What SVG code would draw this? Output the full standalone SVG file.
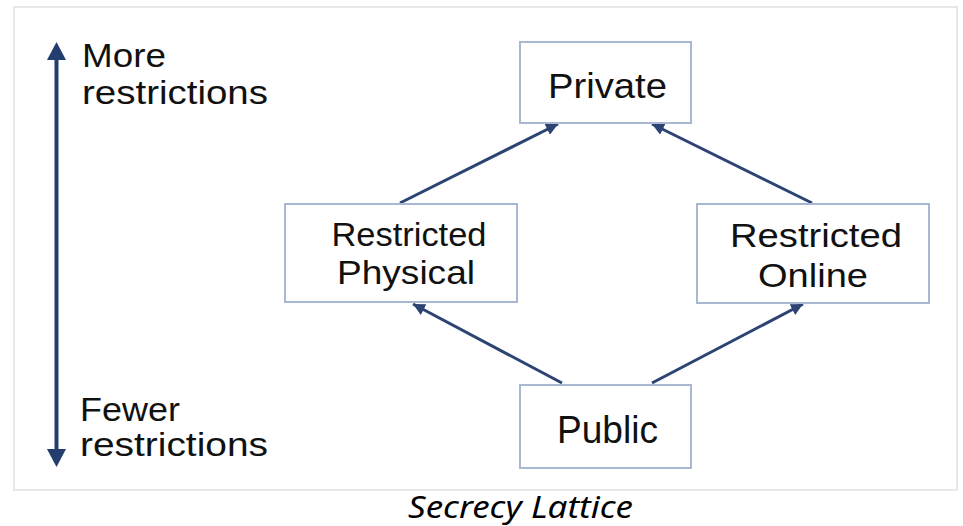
<svg xmlns="http://www.w3.org/2000/svg" width="963" height="526" viewBox="0 0 963 526">
  <defs>
    <marker id="head" viewBox="0 0 10 10" refX="10" refY="5" markerWidth="4" markerHeight="4" orient="auto" markerUnits="strokeWidth">
      <path d="M0,0 L10,5 L0,10 z" fill="#2c4374"/>
    </marker>
    <style>
      .frame { fill: #ffffff; stroke: #e8e8e8; stroke-width: 2; }
      .box { fill: #ffffff; stroke: #a8b7d2; stroke-width: 2; }
      .label { font-family: "Liberation Sans", Arial, sans-serif; font-size: 34px; fill: #111111; }
      .side { font-family: "Liberation Sans", Arial, sans-serif; font-size: 33px; fill: #111111; }
      .edge { stroke: #2c4374; stroke-width: 3; fill: none; marker-end: url(#head); }
      .axis { stroke: #223d6e; stroke-width: 4; fill: none; }
      .caption { font-family: "Noto Sans", "Open Sans", sans-serif; font-style: italic; font-size: 30px; fill: #000000; }
    </style>
  </defs>

  <rect x="0" y="0" width="963" height="526" fill="#ffffff"/>
  <rect class="frame" x="14" y="7" width="943" height="483"/>

  <!-- vertical scale arrow -->
  <g id="scale">
    <line class="axis" x1="56.5" y1="56" x2="56.5" y2="452"/>
    <path d="M47,60 L56.5,42 L66,60 z" fill="#223d6e"/>
    <path d="M47,449 L56.5,467 L66,449 z" fill="#223d6e"/>
    <text class="side" x="82" y="67" textLength="84" lengthAdjust="spacingAndGlyphs">More</text>
    <text class="side" x="82" y="104" textLength="186" lengthAdjust="spacingAndGlyphs">restrictions</text>
    <text class="side" x="80" y="421" textLength="100" lengthAdjust="spacingAndGlyphs">Fewer</text>
    <text class="side" x="80" y="456" textLength="188" lengthAdjust="spacingAndGlyphs">restrictions</text>
  </g>

  <!-- connectors -->
  <g id="connectors">
    <line class="edge" x1="400" y1="203" x2="558" y2="124"/>
    <line class="edge" x1="812" y1="203" x2="652" y2="124"/>
    <line class="edge" x1="562" y1="383" x2="413" y2="304"/>
    <line class="edge" x1="652" y1="383" x2="803" y2="304"/>
  </g>

  <g id="private">
    <rect class="box" x="520" y="42" width="171" height="81"/>
    <text class="label" x="607.5" y="98" text-anchor="middle" textLength="119" lengthAdjust="spacingAndGlyphs" style="font-size:35px">Private</text>
  </g>

  <g id="restricted-physical">
    <rect class="box" x="285" y="204" width="232" height="98"/>
    <text class="label" x="409" y="246" text-anchor="middle" textLength="155" lengthAdjust="spacingAndGlyphs">Restricted</text>
    <text class="label" x="406" y="284" text-anchor="middle" textLength="138" lengthAdjust="spacingAndGlyphs">Physical</text>
  </g>

  <g id="restricted-online">
    <rect class="box" x="697" y="204" width="232" height="99"/>
    <text class="label" x="816" y="247" text-anchor="middle" textLength="172" lengthAdjust="spacingAndGlyphs">Restricted</text>
    <text class="label" x="813" y="287" text-anchor="middle" textLength="110" lengthAdjust="spacingAndGlyphs">Online</text>
  </g>

  <g id="public">
    <rect class="box" x="520" y="385" width="171" height="83"/>
    <text class="label" x="607.5" y="443" text-anchor="middle" textLength="101" lengthAdjust="spacingAndGlyphs" style="font-size:38px">Public</text>
  </g>

  <text class="caption" x="408" y="518" textLength="225" lengthAdjust="spacingAndGlyphs">Secrecy Lattice</text>
</svg>
